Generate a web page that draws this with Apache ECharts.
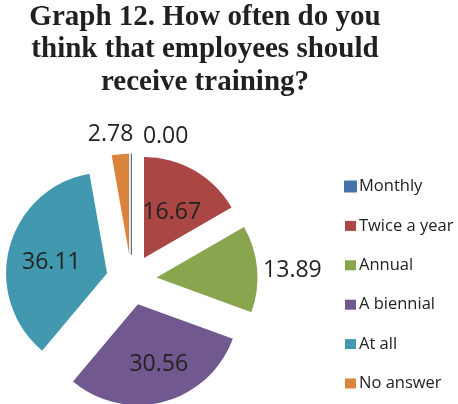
<!DOCTYPE html>
<html><head><meta charset="utf-8">
<script src="https://cdn.jsdelivr.net/npm/echarts@6/dist/echarts.min.js"></script>
<style>html,body{margin:0;padding:0;background:#fff}#c{width:458px;height:404px}</style>
</head><body><div id="c"></div>
<script>
const titleLines = ['Graph 12. How often do you', 'think that employees should', 'receive training?'];
const categories = ['Monthly', 'Twice a year', 'Annual', 'A biennial', 'At all', 'No answer'];
const values = [0.00, 16.67, 13.89, 30.56, 36.11, 2.78];
const colors = ['#4572A7', '#AA4643', '#89A54E', '#71588F', '#4198AF', '#DB843D'];
const outsideLabels = ['Monthly', 'Annual', 'No answer'];
const labelShift = {'Monthly': [62, -16], 'Twice a year': [1, 1], 'Annual': [0, 2], 'No answer': [18, -19], 'A biennial': [7, 9], 'At all': [-4, 3]};

const chart = echarts.init(document.getElementById('c'), null, {renderer: 'canvas'});
const data = categories.map((name, i) => {
  const item = {name, value: values[i], selected: true, itemStyle: {color: colors[i]}};
  if (outsideLabels.includes(name)) item.label = {position: 'outside'};
  if (values[i] === 0) item.itemStyle = {color: colors[i], borderColor: colors[i], borderWidth: 1};
  return item;
});
chart.setOption({
  animation: false,
  title: {
    text: titleLines.join('\n'),
    left: 205, top: 1, textAlign: 'center', padding: 0,
    textStyle: {fontFamily: 'Liberation Serif', fontWeight: 'bold', fontSize: 29, lineHeight: 32.5, color: '#231F20'}
  },
  legend: {
    orient: 'vertical', left: 344, top: 178, padding: 0,
    icon: 'rect', itemWidth: 11, itemHeight: 10, itemGap: 22.4,
    textStyle: {fontFamily: 'Open Sans', fontSize: 16.5, lineHeight: 16, color: '#222', padding: [0, 0, 0, -2]},
    data: categories, selectedMode: false
  },
  series: [{
    type: 'pie',
    center: [131.4, 279.8], radius: [0, 101],
    startAngle: 90, clockwise: true,
    selectedMode: 'multiple', selectedOffset: 25.2,
    avoidLabelOverlap: false, minShowLabelAngle: 0,
    label: {show: true, position: 'inside', fontFamily: 'Open Sans', fontSize: 23, color: '#222',
      formatter: p => p.value.toFixed(2)},
    labelLine: {show: false, length: 1, length2: 0},
    labelLayout: p => { const s = labelShift[categories[p.dataIndex]]; return s ? {dx: s[0], dy: s[1]} : {}; },
    emphasis: {disabled: true},
    data
  }]
});
</script></body></html>
